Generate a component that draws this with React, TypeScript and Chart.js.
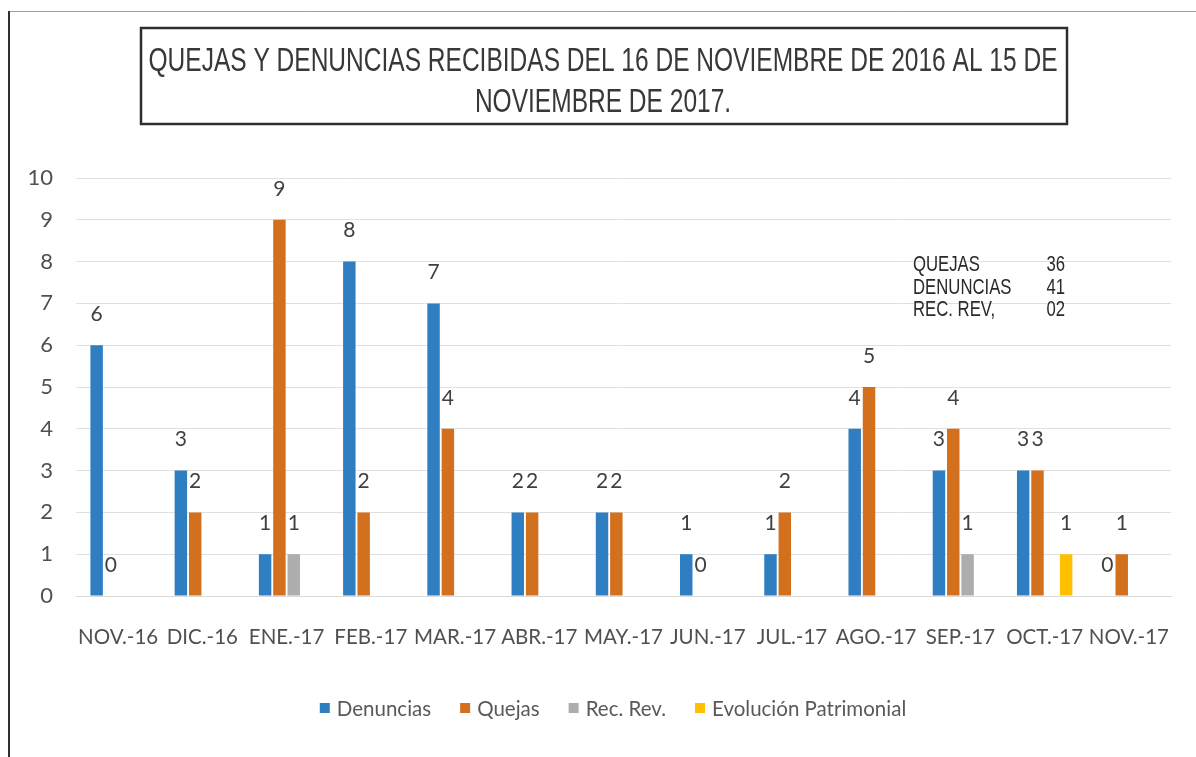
import React, { useEffect, useRef } from 'react';
import { Chart, registerables } from 'chart.js';

Chart.register(...registerables);

const categories = ['NOV.-16', 'DIC.-16', 'ENE.-17', 'FEB.-17', 'MAR.-17', 'ABR.-17', 'MAY.-17', 'JUN.-17', 'JUL.-17', 'AGO.-17', 'SEP.-17', 'OCT.-17', 'NOV.-17'];
const denuncias = [6, 3, 1, 8, 7, 2, 2, 1, 1, 4, 3, 3, 0];
const quejas = [0, 2, 9, 2, 4, 2, 2, 0, 2, 5, 4, 3, 1];
const recRev = [null, null, 1, null, null, null, null, null, null, null, 1, null, null];
const evolucion = [null, null, null, null, null, null, null, null, null, null, null, 1, null];
const seriesNames = ['Denuncias', 'Quejas', 'Rec. Rev.', 'Evolución Patrimonial'];
const seriesColors = ['#2F7EC2', '#D2701E', '#ADADAD', '#FFC000'];
const titleLines = ['QUEJAS Y DENUNCIAS RECIBIDAS DEL 16 DE NOVIEMBRE DE 2016 AL 15 DE', 'NOVIEMBRE DE 2017.'];
const summaryLabels = ['QUEJAS', 'DENUNCIAS', 'REC. REV,'];
const summaryValues = ['36', '41', '02'];
const yMin = 0;
const yMax = 10;
const yStep = 1;

const decorPlugin = {
  id: 'decor',
  afterDatasetsDraw(chart: any) {
    const ctx = chart.ctx;
    ctx.save();
    ctx.fillStyle = '#404040';
    ctx.font = '21px Lato, "Open Sans", sans-serif';
    ctx.textAlign = 'center';
    ctx.textBaseline = 'middle';
    chart.data.datasets.forEach((ds: any, di: number) => {
      const meta = chart.getDatasetMeta(di);
      meta.data.forEach((el: any, i: number) => {
        const v = ds.data[i];
        if (v === null || v === undefined) return;
        ctx.fillText(String(v), el.x, el.y - 31);
      });
    });
    ctx.restore();
  },
  afterDraw(chart: any) {
    const ctx = chart.ctx;
    ctx.save();
    // outer frame
    ctx.strokeStyle = '#a0a0a0';
    ctx.lineWidth = 1;
    ctx.beginPath();
    ctx.moveTo(9, 11.5);
    ctx.lineTo(1196, 11.5);
    ctx.stroke();
    ctx.strokeStyle = '#303030';
    ctx.lineWidth = 2;
    ctx.beginPath();
    ctx.moveTo(9, 11);
    ctx.lineTo(9, 757);
    ctx.stroke();

    // title box
    ctx.strokeStyle = '#2e2e2e';
    ctx.lineWidth = 2.5;
    ctx.strokeRect(141, 28, 926, 96);
    ctx.fillStyle = '#383838';
    ctx.font = '33px "Liberation Sans", Arial, sans-serif';
    ctx.textAlign = 'center';
    ctx.textBaseline = 'alphabetic';
    const w0 = ctx.measureText(titleLines[0]).width;
    const sx = 909 / w0;
    titleLines.forEach((line, i) => {
      ctx.save();
      ctx.translate(603, 71 + i * 41);
      ctx.scale(sx, 1);
      ctx.fillText(line, 0, 0);
      ctx.restore();
    });

    // summary annotation
    ctx.fillStyle = '#2a2a2a';
    ctx.font = '22px "Liberation Sans", Arial, sans-serif';
    summaryLabels.forEach((lab, i) => {
      const by = 271 + i * 22.5;
      ctx.save();
      ctx.translate(913, by);
      ctx.scale(0.76, 1);
      ctx.textAlign = 'left';
      ctx.fillText(lab, 0, 0);
      ctx.restore();
      ctx.save();
      ctx.translate(1065, by);
      ctx.scale(0.76, 1);
      ctx.textAlign = 'right';
      ctx.fillText(summaryValues[i], 0, 0);
      ctx.restore();
    });

    // legend
    ctx.font = '20.5px Lato, "Open Sans", sans-serif';
    ctx.textAlign = 'left';
    ctx.textBaseline = 'middle';
    const box = 10;
    const gapBoxText = 7;
    const gapItems = 29;
    const widths = chart.data.datasets.map((ds: any) => ctx.measureText(ds.label).width);
    const total = widths.reduce((a: number, w: number) => a + box + gapBoxText + w, 0) + gapItems * (widths.length - 1);
    let x = 613 - total / 2;
    const cy = 708;
    chart.data.datasets.forEach((ds: any, i: number) => {
      ctx.fillStyle = ds.backgroundColor;
      ctx.fillRect(x, cy - box / 2, box, box);
      ctx.fillStyle = '#595959';
      ctx.fillText(ds.label, x + box + gapBoxText, cy + 1);
      x += box + gapBoxText + widths[i] + gapItems;
    });
    ctx.restore();
  },
};

export default function App() {
  const canvasRef = useRef<HTMLCanvasElement | null>(null);

  useEffect(() => {
    if (!canvasRef.current) return;
    const seriesData = [denuncias, quejas, recRev, evolucion];
    const chart = new Chart(canvasRef.current, {
      type: 'bar',
      data: {
        labels: categories,
        datasets: seriesNames.map((name, i) => ({
          label: name,
          data: seriesData[i] as any,
          backgroundColor: seriesColors[i],
          borderWidth: 0,
          categoryPercentage: 0.68,
          barPercentage: 0.87,
        })),
      },
      options: {
        responsive: false,
        animation: false,
        layout: { padding: { top: 178, right: 25, bottom: 109, left: 0 } },
        plugins: {
          legend: { display: false },
          title: { display: false },
          tooltip: { enabled: false },
        },
        scales: {
          x: {
            grid: { display: false, drawTicks: false },
            border: { display: true, color: '#d9d9d9', width: 1 },
            ticks: {
              autoSkip: false,
              maxRotation: 0,
              minRotation: 0,
              padding: 29,
              color: '#505050',
              font: { family: 'Lato, "Open Sans", sans-serif', size: 20.5 },
            },
            afterFit(scale: any) {
              scale.height = 52;
              scale.paddingLeft = 0;
              scale.paddingRight = 0;
            },
          },
          y: {
            min: yMin,
            max: yMax,
            ticks: {
              stepSize: yStep,
              padding: 23,
              color: '#505050',
              font: { family: 'Lato, "Open Sans", sans-serif', size: 22 },
            },
            grid: { color: '#e0e0e0', drawTicks: false },
            border: { display: false },
            afterFit(scale: any) {
              scale.width = 76;
              scale.paddingTop = 0;
              scale.paddingBottom = 0;
            },
          },
        },
      },
      plugins: [decorPlugin],
    });
    return () => chart.destroy();
  }, []);

  return (
    <div style={{ position: 'absolute', left: 0, top: 0, width: 1196, height: 757, background: '#ffffff' }}>
      <canvas ref={canvasRef} width={1196} height={757} style={{ display: 'block' }} />
    </div>
  );
}
